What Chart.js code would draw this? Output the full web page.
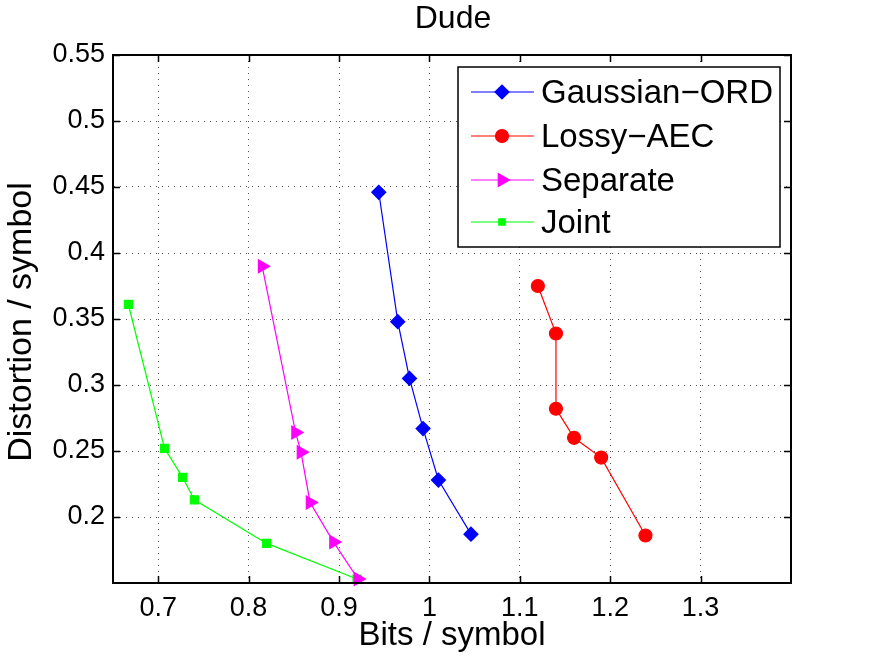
<!DOCTYPE html>
<html>
<head>
<meta charset="utf-8">
<script src="https://cdn.jsdelivr.net/npm/chart.js@4.4.1/dist/chart.umd.min.js"></script>
<style>
  html, body { margin: 0; padding: 0; background: #fff; }
  #wrap { width: 873px; height: 657px; }
</style>
</head>
<body>
<div id="wrap"><canvas id="chartDude" width="873" height="657"></canvas></div>
<script>
// values (x = bits/symbol, y = distortion/symbol)
const gaussianX = [0.944, 0.965, 0.978, 0.993, 1.010, 1.046];
const gaussianY = [0.446, 0.348, 0.305, 0.267, 0.228, 0.187];
const lossyX = [1.120, 1.140, 1.140, 1.160, 1.190, 1.239];
const lossyY = [0.375, 0.339, 0.282, 0.260, 0.245, 0.186];
const separateX = [0.815, 0.852, 0.858, 0.868, 0.894, 0.921];
const separateY = [0.390, 0.264, 0.249, 0.211, 0.181, 0.153];
const jointX = [0.667, 0.707, 0.727, 0.740, 0.820, 0.920];
const jointY = [0.361, 0.252, 0.230, 0.213, 0.180, 0.153];

const xTicks = [0.7, 0.8, 0.9, 1.0, 1.1, 1.2, 1.3];
const yTicks = [0.2, 0.25, 0.3, 0.35, 0.4, 0.45, 0.5, 0.55];

const titleText = 'Dude';
const xLabel = 'Bits / symbol';
const yLabel = 'Distortion / symbol';
const FONT = '"Liberation Sans", Arial, Helvetica, sans-serif';

function pts(xs, ys) { return xs.map((x, i) => ({ x: x, y: ys[i] })); }

function series(label, xs, ys, color, style, radius, rotation) {
    return {
        label: label, data: pts(xs, ys),
        borderColor: color, backgroundColor: color,
        pointBorderColor: color, pointBackgroundColor: color,
        borderWidth: 1.2, pointStyle: style, pointRadius: radius,
        pointRotation: rotation || 0, pointHoverRadius: radius,
        showLine: true, tension: 0, clip: 12
    };
}

const datasets = [
    series('Gaussian\u2212ORD', gaussianX, gaussianY, '#0000ff', 'rectRot', 7),
    series('Lossy\u2212AEC', lossyX, lossyY, '#ff0000', 'circle', 6.5),
    series('Separate', separateX, separateY, '#ff00ff', 'triangle', 7.5, 90),
    series('Joint', jointX, jointY, '#00ff00', 'rect', 5.7)
];

// box, inward ticks, titles and legend drawn the MATLAB way
const matlabFrame = {
    id: 'matlabFrame',
    afterDraw(chart) {
        const ctx = chart.ctx;
        const a = chart.chartArea;
        const xs = chart.scales.x, ys = chart.scales.y;
        ctx.save();
        ctx.strokeStyle = '#000';
        ctx.lineWidth = 1.5;
        ctx.beginPath();
        xTicks.forEach(v => {
            const px = Math.round(xs.getPixelForValue(v)) + 0.5;
            ctx.moveTo(px, a.bottom); ctx.lineTo(px, a.bottom - 7);
            ctx.moveTo(px, a.top); ctx.lineTo(px, a.top + 7);
        });
        yTicks.forEach(v => {
            const py = Math.round(ys.getPixelForValue(v)) + 0.5;
            ctx.moveTo(a.left, py); ctx.lineTo(a.left + 7, py);
            ctx.moveTo(a.right, py); ctx.lineTo(a.right - 7, py);
        });
        ctx.stroke();
        ctx.lineWidth = 2;
        ctx.strokeRect(a.left, a.top, a.right - a.left, a.bottom - a.top);

        // titles
        ctx.fillStyle = '#000';
        ctx.textAlign = 'center';
        ctx.textBaseline = 'middle';
        const cx = (a.left + a.right) / 2;
        ctx.font = '32px ' + FONT;
        ctx.fillText(titleText, cx + 1, 19);
        ctx.font = '33px ' + FONT;
        ctx.fillText(xLabel, cx, 636);
        ctx.save();
        ctx.translate(22, (a.top + a.bottom) / 2 + 3);
        ctx.rotate(-Math.PI / 2);
        ctx.font = '34px ' + FONT;
        ctx.fillText(yLabel, 0, 0);
        ctx.restore();

        // legend
        const lx = 458, ly = 67, lw = 322, lh = 180;
        ctx.fillStyle = '#fff';
        ctx.fillRect(lx, ly, lw, lh);
        ctx.lineWidth = 1.5;
        ctx.strokeStyle = '#000';
        ctx.strokeRect(lx, ly, lw, lh);
        const rowY = [92, 136, 180, 222];
        const legendRadius = [7, 6.5, 7.5, 4.5];
        ctx.textAlign = 'left';
        ctx.font = '33px ' + FONT;
        chart.data.datasets.forEach((ds, i) => {
            const y = rowY[i];
            ctx.strokeStyle = ds.borderColor;
            ctx.lineWidth = 1.2;
            ctx.beginPath();
            ctx.moveTo(471, y); ctx.lineTo(534, y);
            ctx.stroke();
            ctx.fillStyle = ds.backgroundColor;
            Chart.helpers.drawPoint(ctx, {
                pointStyle: ds.pointStyle, radius: legendRadius[i],
                rotation: ds.pointRotation, borderWidth: 1
            }, 502, y);
            ctx.fillStyle = '#000';
            ctx.fillText(ds.label, 541, y + 2);
        });
        ctx.restore();
    }
};

new Chart(document.getElementById('chartDude').getContext('2d'), {
    type: 'scatter',
    data: { datasets: datasets },
    options: {
        responsive: false,
        animation: false,
        layout: { padding: { left: 0, right: 82, top: 55, bottom: 0 } },
        plugins: { legend: { display: false }, title: { display: false }, tooltip: { enabled: false } },
        scales: {
            x: {
                type: 'linear', min: 0.65, max: 1.4,
                afterBuildTicks: s => { s.ticks = xTicks.map(v => ({ value: v })); },
                afterFit: s => { s.height = 74; },
                grid: { color: '#555', lineWidth: 1, drawTicks: false },
                border: { color: '#000', width: 2, dash: [1, 5] },
                ticks: {
                    color: '#000', padding: 9, maxRotation: 0, autoSkip: false,
                    font: { family: FONT, size: 27 },
                    callback: v => String(+v.toFixed(2))
                }
            },
            y: {
                type: 'linear', min: 0.15, max: 0.55,
                afterBuildTicks: s => { s.ticks = yTicks.map(v => ({ value: v })); },
                afterFit: s => { s.width = 113; },
                grid: { color: '#555', lineWidth: 1, drawTicks: false },
                border: { color: '#000', width: 2, dash: [1, 5] },
                ticks: {
                    color: '#000', padding: 8, autoSkip: false,
                    font: { family: FONT, size: 27 },
                    callback: v => String(+v.toFixed(2))
                }
            }
        }
    },
    plugins: [matlabFrame]
});
</script>
</body>
</html>
